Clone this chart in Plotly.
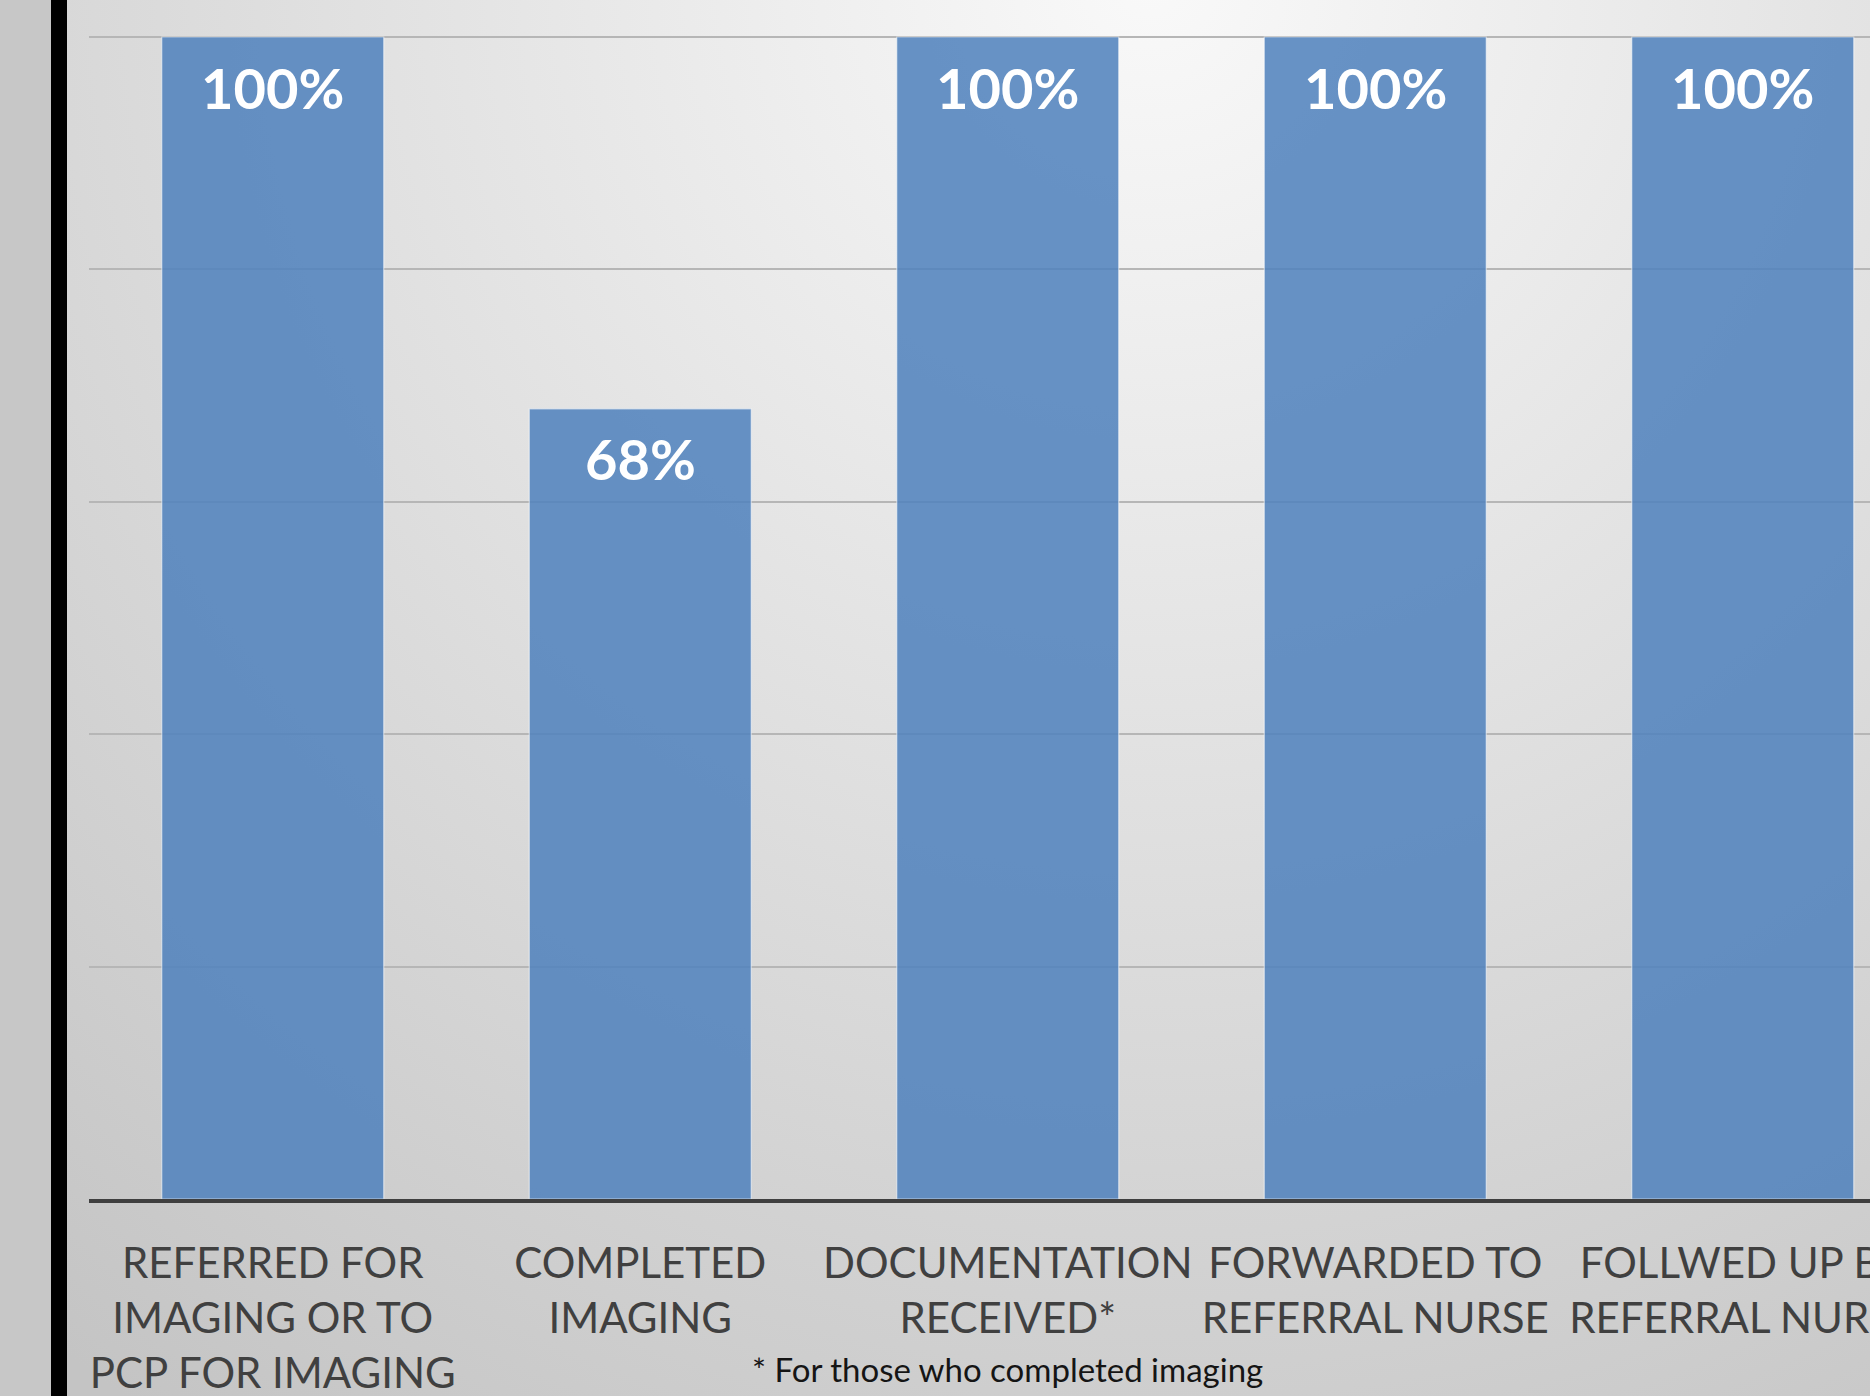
import base64
import plotly.graph_objects as go

categories = [
    "REFERRED FOR<br>IMAGING OR TO<br>PCP FOR IMAGING",
    "COMPLETED<br>IMAGING",
    "DOCUMENTATION<br>RECEIVED*",
    "FORWARDED TO<br>REFERRAL NURSE",
    "FOLLWED UP BY<br>REFERRAL NURSE",
]
values = [100, 68, 100, 100, 100]
footnote = "* For those who completed imaging"

W, H = 1870, 1396

# background: slide-style radial gradient, left gray strip and black edge
svg = f'''<svg xmlns="http://www.w3.org/2000/svg" width="{W}" height="{H}" viewBox="0 0 {W} {H}" preserveAspectRatio="none">
<defs><radialGradient id="g" gradientUnits="userSpaceOnUse" cx="1150" cy="-20" r="1750">
<stop offset="0" stop-color="#f9f9f9"/><stop offset="1" stop-color="#c4c4c4"/></radialGradient></defs>
<rect x="0" y="0" width="{W}" height="{H}" fill="url(#g)"/>
<rect x="0" y="0" width="51" height="{H}" fill="#c7c7c7"/>
<rect x="51" y="0" width="16" height="{H}" fill="#000000"/>
</svg>'''
bg_uri = "data:image/svg+xml;base64," + base64.b64encode(svg.encode()).decode()

x_idx = list(range(len(categories)))

fig = go.Figure()
fig.add_trace(go.Bar(
    x=x_idx, y=values,
    marker=dict(color="rgba(79,129,189,0.86)",
                line=dict(color="rgba(255,255,255,0.55)", width=1.2)),
    xaxis="x", yaxis="y", hoverinfo="skip",
))

for xi, v in zip(x_idx, values):
    fig.add_annotation(
        x=xi, y=v, xref="x", yref="y", text=f"{v}%", showarrow=False,
        yanchor="middle", yshift=-50,
        font=dict(family="Lato", size=56, color="white", weight="bold"),
    )

fig.add_annotation(
    x=2, y=(H - 1369) / H, xref="x", yref="paper", text=footnote,
    showarrow=False, yanchor="middle",
    font=dict(family="Lato", size=33, color="#151515"),
)

spacing = 367.5
left_px = 89
plot_w = W - left_px
y_top = 100.3
fig.update_layout(
    template="none",
    width=W, height=H, autosize=False,
    margin=dict(l=0, r=0, t=0, b=0, pad=0),
    paper_bgcolor="#d8d8d8", plot_bgcolor="rgba(0,0,0,0)",
    showlegend=False,
    bargap=0.396,
    images=[dict(source=bg_uri, xref="paper", yref="paper", x=0, y=1,
                 sizex=1, sizey=1, sizing="stretch", layer="below",
                 xanchor="left", yanchor="top")],
    xaxis=dict(
        domain=[left_px / W, 1],
        range=[-0.5, -0.5 + plot_w / spacing],
        tickmode="array", tickvals=x_idx, ticktext=categories,
        tickangle=0, ticklabeloverflow="allow",
        showgrid=False, zeroline=False, automargin=False,
        showline=True, linecolor="#3f3f3f", linewidth=4,
        ticks="", tickfont=dict(family="Lato", size=42, color="#404040"),
        ticklabelstandoff=25,
    ),
    yaxis=dict(
        domain=[(H - 1199) / H, (H - 37 + 1162 * (y_top - 100) / 100) / H],
        range=[0, y_top], tickvals=[0, 20, 40, 60, 80, 100], showticklabels=False,
        showgrid=True, gridcolor="#b6b6b6", gridwidth=1.5,
        zeroline=False, automargin=False, ticks="",
    ),
)

fig.write_html("out.html", config={"displayModeBar": False},
               post_script="document.body.style.margin='0';")
